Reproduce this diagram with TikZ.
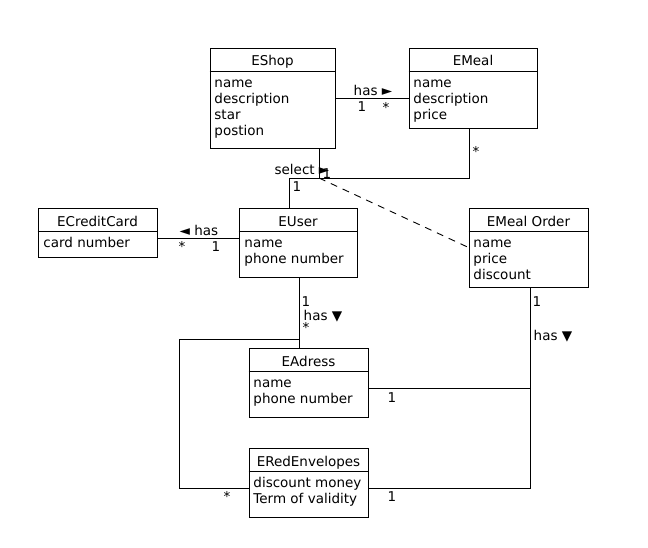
\documentclass[tikz,border=0pt]{standalone}
\usepackage{fontspec}
\setmainfont{DejaVu Sans}
\begin{document}
\begin{tikzpicture}[x=1pt,y=-1pt,line width=0.9pt,
  every node/.style={font=\fontsize{13.5}{16}\selectfont},
  cls/.style={draw, rectangle, inner sep=0},
  title/.style={anchor=base, inner sep=0},
  attr/.style={anchor=north west, align=left, inner sep=0},
  lab/.style={inner sep=0}]
\useasboundingbox (0,0) rectangle (648,547);
% classes
\node[cls, minimum width=125, minimum height=100] (shop) at (272.5,98){};
\draw (shop.north west) ++(0,24) -- ++(125,0);
\node[title] (shopT) at (272.5,65.5){EShop};
\node[attr] (shopA) at (214,75.5){\strut name\\description\\star\\postion};
\node[cls, minimum width=128, minimum height=80] (meal) at (473,88){};
\draw (meal.north west) ++(0,24) -- ++(128,0);
\node[title] (mealT) at (473,65.5){EMeal};
\node[attr] (mealA) at (413,75.5){\strut name\\description\\price};
\node[cls, minimum width=119, minimum height=49] (card) at (97.5,232.5){};
\draw (card.north west) ++(0,24) -- ++(119,0);
\node[title] (cardT) at (97.5,226){ECreditCard};
\node[attr] (cardA) at (43,235.5){\strut card number};
\node[cls, minimum width=118, minimum height=69] (user) at (298,242.5){};
\draw (user.north west) ++(0,24) -- ++(118,0);
\node[title] (userT) at (298,226){EUser};
\node[attr] (userA) at (244,235.5){\strut name\\phone number};
\node[cls, minimum width=119, minimum height=79] (order) at (528.5,247.5){};
\draw (order.north west) ++(0,24) -- ++(119,0);
\node[title] (orderT) at (528.5,226){EMeal Order};
\node[attr] (orderA) at (473,235.5){\strut name\\price\\discount};
\node[cls, minimum width=119, minimum height=69] (adress) at (308.5,382.5){};
\draw (adress.north west) ++(0,24) -- ++(119,0);
\node[title] (adressT) at (308.5,366){EAdress};
\node[attr] (adressA) at (253,375.5){\strut name\\phone number};
\node[cls, minimum width=119, minimum height=69] (red) at (308.5,482.5){};
\draw (red.north west) ++(0,24) -- ++(119,0);
\node[title] (redT) at (308.5,466){ERedEnvelopes};
\node[attr] (redA) at (253,475.5){\strut discount money\\Term of validity};
% connectors
\coordinate (sel) at (319,178);
\coordinate (ordR) at (530,388);
\coordinate (left) at (179,339);
\draw (shop.east) -- (meal.west |- shop.east);
\draw (sel |- shop.south) -- (sel);
\draw ([xshift=-4]meal.south) -- ([xshift=-4]meal.south |- sel) -- ([xshift=-9]user.north |- sel) -- ([xshift=-9]user.north);
\draw[dash pattern=on 7pt off 6pt] (sel) -- (order.west);
\draw (card.east |- 0,238.5) -- (user.west |- 0,238.5);
\draw ([xshift=1.5]user.south) -- ([xshift=1.5]user.south |- adress.north);
\draw ([xshift=1.5]user.south |- left) -- (left) -- (left |- 0,488) -- (red.west |- 0,488);
\draw (ordR |- order.south) -- (ordR |- 0,488) -- (red.east |- 0,488);
\draw (adress.east |- ordR) -- (ordR);
% labels
\node[lab] (hasShop) at (373,90){has ►};
\node[lab] (m1) at (362,107){1};
\node[lab] (m2) at (386,107){*};
\node[lab] (selL) at (302,169){select ►};
\node[lab] (m3) at (327,174){1};
\node[lab] (m4) at (476,151){*};
\node[lab] (m5) at (297,187){1};
\node[lab] (hasCard) at (199,230){◄ has};
\node[lab] (m6) at (182,246){*};
\node[lab] (m7) at (216,247){1};
\node[lab] (m8) at (306,302){1};
\node[lab] (hasAdr) at (323,316){has ▼};
\node[lab] (m9) at (306,327){*};
\node[lab] (m10) at (537,302){1};
\node[lab] (hasOrd) at (553,336){has ▼};
\node[lab] (m11) at (392,398){1};
\node[lab] (m12) at (392,497){1};
\node[lab] (m13) at (227,496){*};
\end{tikzpicture}
\end{document}
